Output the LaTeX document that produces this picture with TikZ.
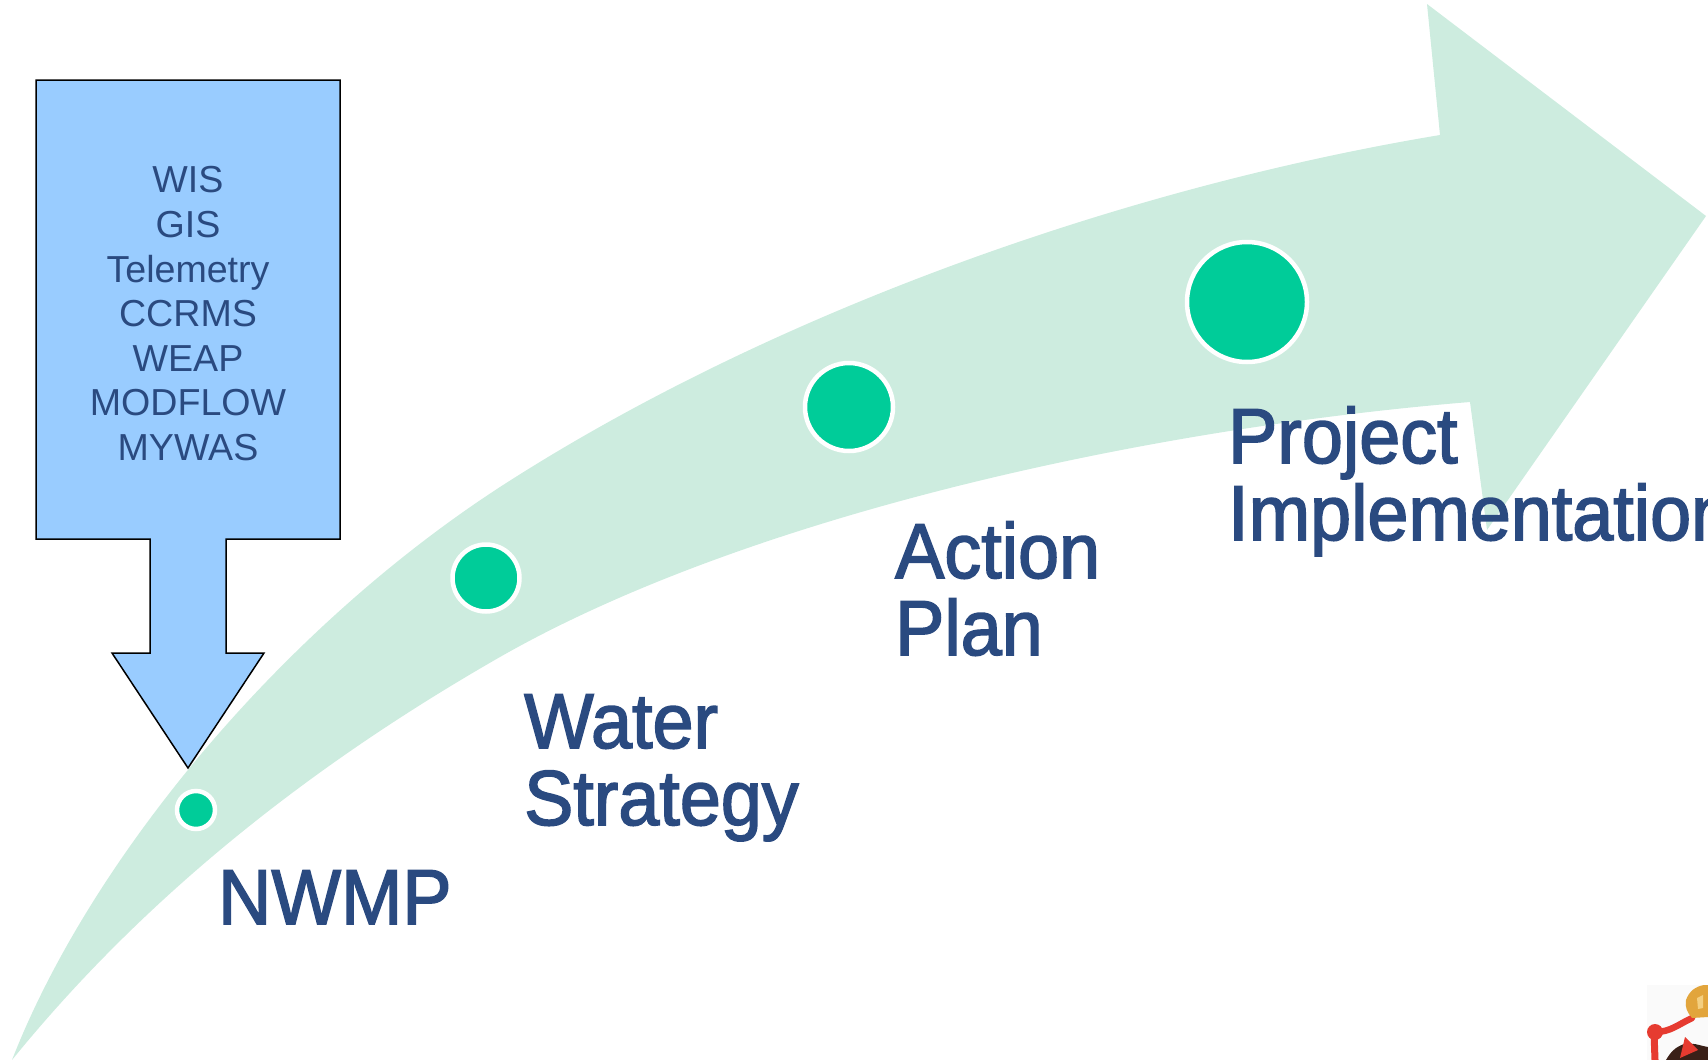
\documentclass[tikz,border=0pt]{standalone}
\usepackage{fontspec}
\setmainfont{Liberation Sans}
\newfontfamily\stagefont[FakeStretch=0.945,FakeBold=2]{Liberation Sans}
\definecolor{ribbongreen}{HTML}{CDECDF}
\definecolor{dotgreen}{HTML}{00CC99}
\definecolor{boxblue}{HTML}{99CCFF}
\definecolor{textblue}{HTML}{2A4A80}
\definecolor{crestred}{HTML}{E63B30}
\definecolor{crestgold}{HTML}{E2A53C}
\definecolor{crestlight}{HTML}{F4CF80}
\definecolor{crestdark}{HTML}{3A2018}
\tikzset{
  stagedot/.style={circle,draw=white,fill=dotgreen,line width=4.5pt,inner sep=0pt},
  stagelabel/.style={anchor=base west,inner sep=0pt,align=left,text=textblue,
    font=\stagefont\fontsize{78}{77}\selectfont},
  toollist/.style={anchor=base,inner sep=0pt,align=center,text=textblue,
    font=\fontsize{37.6}{44.6}\selectfont},
}
\begin{document}
\begin{tikzpicture}[x=1pt,y=-1pt]
\useasboundingbox (0,0) rectangle (1708,1060);
% ribbon arrow
\path[fill=ribbongreen] (12,1060)
.. controls (90,860) and (280,630) .. (500,487)
.. controls (760,319) and (1110,190) .. (1440,135)
-- (1427,4) -- (1706,216) -- (1487,530) -- (1470,402)
.. controls (1130,430) and (740,520) .. (500,657)
.. controls (320,760) and (150,890) .. (12,1060) -- cycle;
% blue callout
\path[fill=boxblue,draw=black,line width=1.5pt,line join=miter]
(36,80) -- (340,80) -- (340,539) -- (226,539) -- (226,653) -- (264,653)
-- (188,768) -- (112,653) -- (150,653) -- (150,539) -- (36,539) -- cycle;
\node[toollist] (tools) at (188,460.5)
 {WIS\\GIS\\Telemetry\\CCRMS\\WEAP\\MODFLOW\\MYWAS};
% stages
\node[stagedot,minimum size=38pt] (nwmpdot) at (196,810) {};
\node[stagedot,minimum size=67pt] (waterdot) at (486,578) {};
\node[stagedot,minimum size=88pt] (actiondot) at (849,407) {};
\node[stagedot,minimum size=120pt] (projectdot) at (1247,302) {};
\node[stagelabel] (nwmp) at (218,924) {NWMP};
\node[stagelabel] (water) at (524,825) {Water\\Strategy};
\node[stagelabel] (action) at (895,655) {Action\\Plan};
\node[stagelabel] (project) at (1228,540) {Project\\Implementation};
% crest in the corner
\path[fill=white!98!black] (1647,985) rectangle (1708,1060);
\path[fill=crestdark] (1666,1060) to [out=60,in=200] (1684,1044)
 to [out=10,in=170] (1708,1047) -- (1708,1060) -- cycle;
\path[fill=crestred] (1685,1037) -- (1698,1050) -- (1680,1058) -- cycle;
\path[draw=crestred,line width=6.5pt,line cap=round] (1655,1032)
 to [out=0,in=205] (1692,1018);
\path[draw=crestred,line width=7pt] (1654,1032) -- (1655,1060);
\path[fill=crestred] (1655,1032) circle (8pt);
\path[fill=crestgold] (1692,1018) to [out=130,in=260] (1686,1000)
 to [out=70,in=190] (1704,985) -- (1708,985) -- (1708,1017) -- cycle;
\path[fill=crestlight] (1697,998) -- (1703,995) -- (1703,1008) -- (1698,1009) -- cycle;
\end{tikzpicture}
\end{document}
